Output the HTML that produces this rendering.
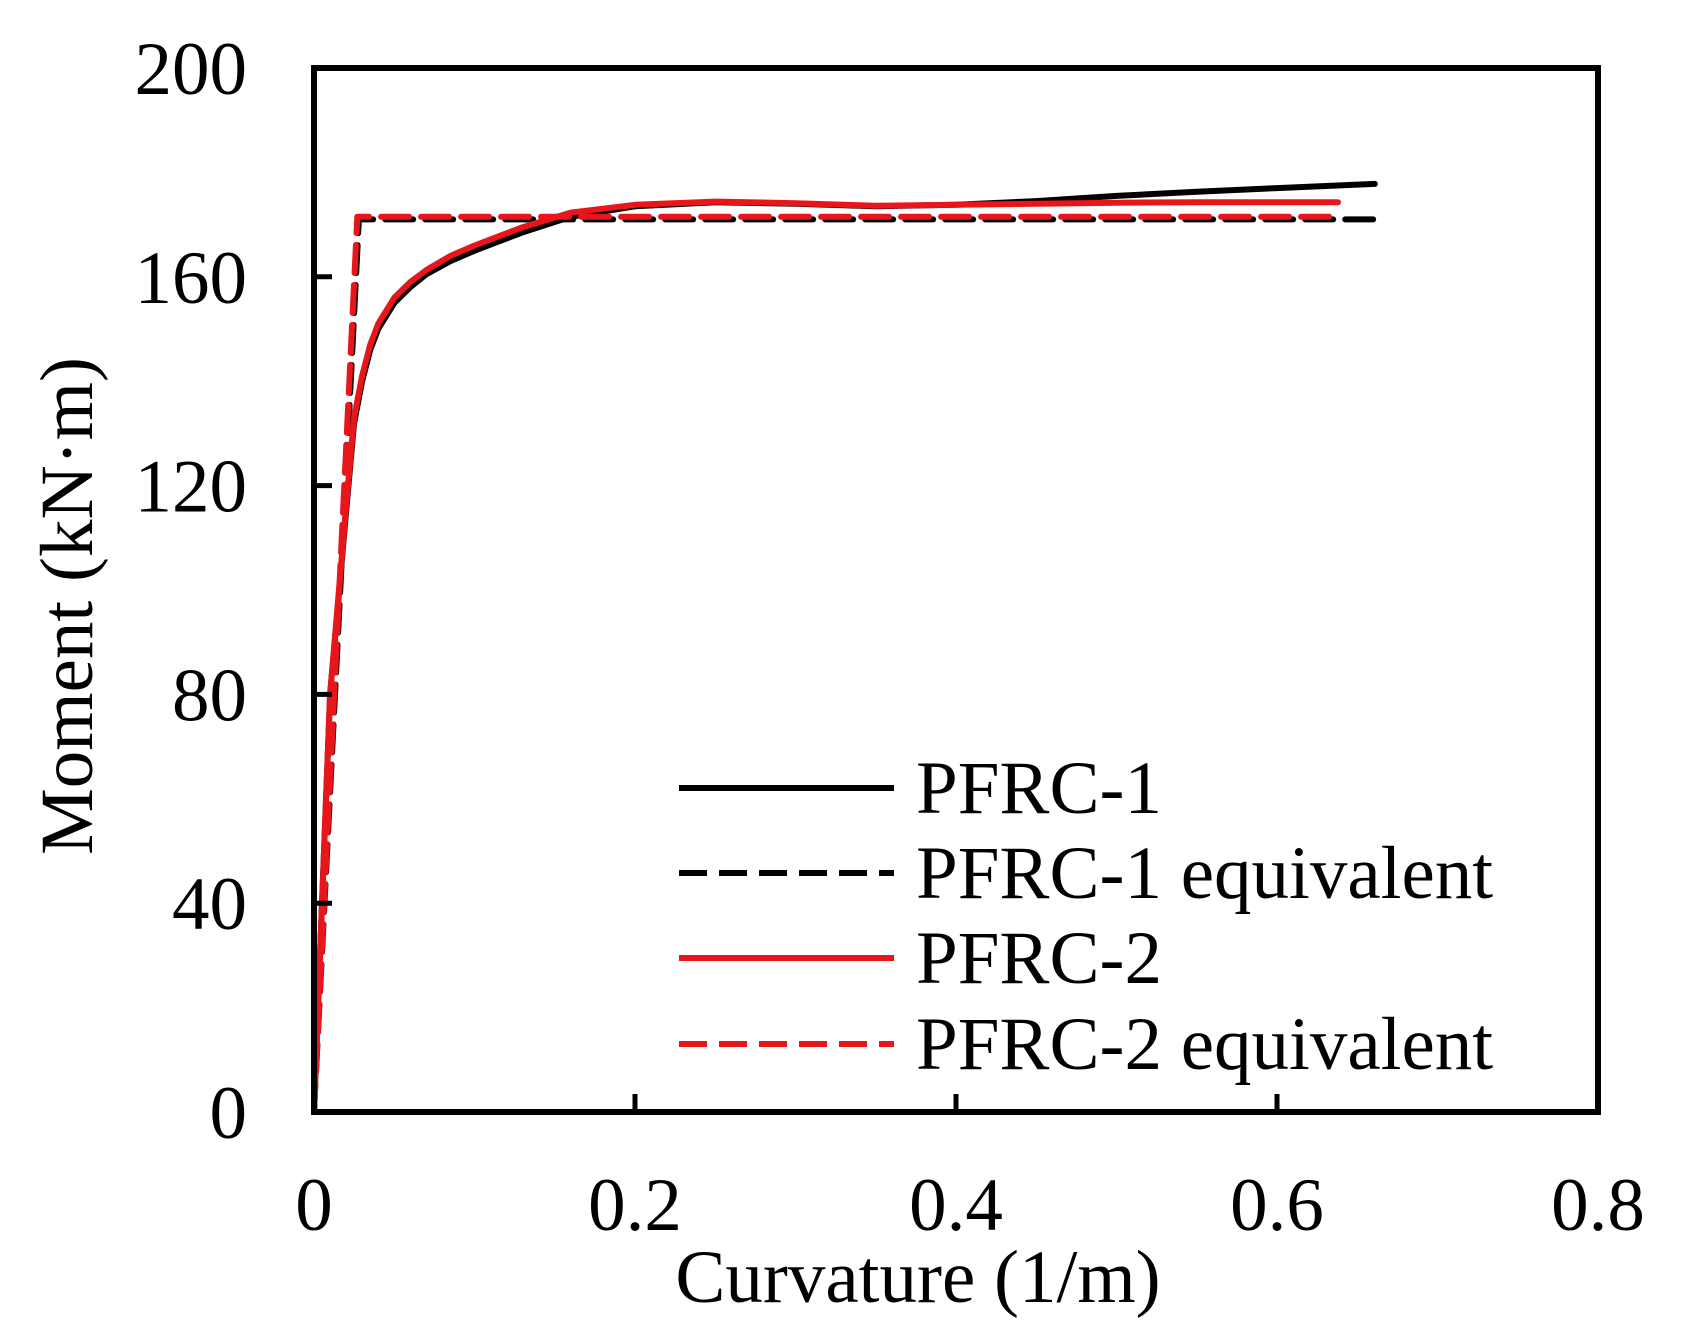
<!DOCTYPE html>
<html><head><meta charset="utf-8"><style>
html,body{margin:0;padding:0;background:#fff;}
svg{display:block;font-family:"Liberation Serif",serif;}
</style></head><body>
<svg id="chart" width="1689" height="1341" viewBox="0 0 1689 1341">
<g id="marks"></g>
<rect x="314" y="68" width="1284" height="1044" fill="none" stroke="#000" stroke-width="6"/>
<g id="ticks"></g>
<text x="918" y="1302" font-size="75" text-anchor="middle">Curvature (1/m)</text>
<text transform="translate(92,606) rotate(-90)" font-size="75" text-anchor="middle">Moment (kN·m)</text>
<g id="legend">
<line x1="679" y1="788" x2="894" y2="788" stroke="#000" stroke-width="6"/>
<text x="916" y="813" font-size="75">PFRC-1</text>
<line x1="679" y1="873" x2="894" y2="873" stroke="#000" stroke-width="6" stroke-dasharray="28,12"/>
<text x="916" y="898" font-size="75">PFRC-1 equivalent</text>
<line x1="679" y1="958" x2="894" y2="958" stroke="#e8161b" stroke-width="6"/>
<text x="916" y="983" font-size="75">PFRC-2</text>
<line x1="679" y1="1044" x2="894" y2="1044" stroke="#e8161b" stroke-width="6" stroke-dasharray="28,12"/>
<text x="916" y="1069" font-size="75">PFRC-2 equivalent</text>
</g>
</svg>
<script>
const xTicks = [0, 0.2, 0.4, 0.6, 0.8];
const xTickLabels = ["0", "0.2", "0.4", "0.6", "0.8"];
const yTicks = [0, 40, 80, 120, 160, 200];
const yTickLabels = ["0", "40", "80", "120", "160", "200"];
const pfrc1X = [0,0.005,0.01,0.02,0.025,0.03,0.035,0.04,0.05,0.06,0.07,0.085,0.1,0.13,0.16,0.2,0.25,0.3,0.35,0.4,0.45,0.5,0.55,0.6,0.661];
const pfrc1Y = [0,40,80,115,132,140,146,150,155,158,160.5,163,165,168.5,171.5,173.5,174.3,174,173.5,173.8,174.5,175.5,176.3,177,177.8];
const pfrc2X = [0,0.005,0.01,0.02,0.025,0.03,0.035,0.04,0.05,0.06,0.07,0.085,0.1,0.13,0.16,0.2,0.25,0.3,0.35,0.4,0.45,0.5,0.55,0.6,0.638];
const pfrc2Y = [0,40,80,116,133,141,147,151,156,159,161.3,164,166,169.5,172.3,173.8,174.4,174.1,173.6,173.8,174,174.2,174.3,174.3,174.3];
const eq1X = [0,0.028,0.66];
const eq1Y = [0,171,171];
const eq2X = [0,0.027,0.638];
const eq2Y = [0,171.5,171.5];

const L=314,R=1598,T=68,B=1112;
const sx=v=>L+(v-0)/(0.8)*(R-L);
const sy=v=>B-(v/200)*(B-T);
const NS="http://www.w3.org/2000/svg";
const marks=document.getElementById('marks');
const ticks=document.getElementById('ticks');
function path(xs,ys,color,dash,name){
  const p=document.createElementNS(NS,'path');
  p.setAttribute('d',xs.map((x,i)=>(i?'L':'M')+sx(x).toFixed(1)+','+sy(ys[i]).toFixed(1)).join(''));
  p.setAttribute('fill','none');p.setAttribute('stroke',color);p.setAttribute('stroke-width','6');
  p.setAttribute('stroke-linejoin','round');p.setAttribute('stroke-linecap','round');
  if(dash)p.setAttribute('stroke-dasharray',dash);
  
  
  marks.appendChild(p);
}
path(eq1X,eq1Y,'#000','28,12','series-pfrc1-equivalent');
path(pfrc1X,pfrc1Y,'#000',null,'series-pfrc1');
path(pfrc2X,pfrc2Y,'#e8161b',null,'series-pfrc2');
path(eq2X,eq2Y,'#e8161b','28,12','series-pfrc2-equivalent');
xTicks.forEach((v,i)=>{
  if(v>0&&v<0.8){const l=document.createElementNS(NS,'line');
  l.setAttribute('x1',sx(v));l.setAttribute('x2',sx(v));l.setAttribute('y1',B);l.setAttribute('y2',B-18);
  l.setAttribute('stroke','#000');l.setAttribute('stroke-width','5');
  
  
  ticks.appendChild(l);}
  const t=document.createElementNS(NS,'text');
  t.setAttribute('x',sx(v));t.setAttribute('y',1230);t.setAttribute('font-size','75');t.setAttribute('text-anchor','middle');
  t.textContent=xTickLabels[i];
  
  
  ticks.appendChild(t);
});
yTicks.forEach((v,i)=>{
  if(v>0&&v<200){const l=document.createElementNS(NS,'line');
  l.setAttribute('x1',L);l.setAttribute('x2',L+18);l.setAttribute('y1',sy(v));l.setAttribute('y2',sy(v));
  l.setAttribute('stroke','#000');l.setAttribute('stroke-width','5');
  
  
  ticks.appendChild(l);}
  const t=document.createElementNS(NS,'text');
  t.setAttribute('x',247);t.setAttribute('y',sy(v)+26);t.setAttribute('font-size','75');t.setAttribute('text-anchor','end');
  t.textContent=yTickLabels[i];
  
  
  ticks.appendChild(t);
});
</script>
</body></html>
